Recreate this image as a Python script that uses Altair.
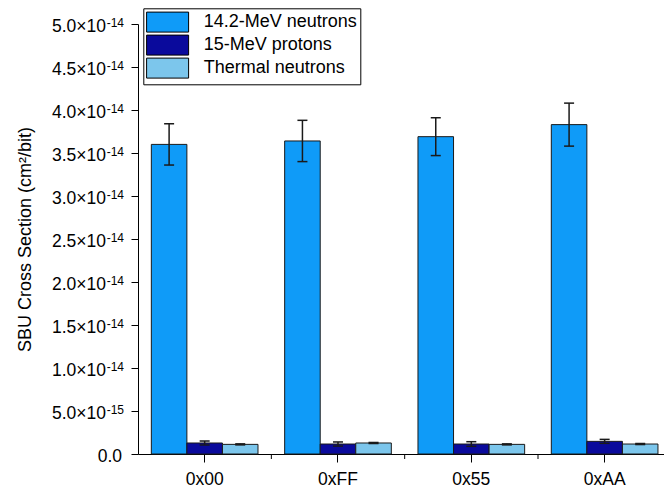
import altair as alt
import pandas as pd

categories = ["0x00", "0xFF", "0x55", "0xAA"]
series = ["14.2-MeV neutrons", "15-MeV protons", "Thermal neutrons"]
colors = ["#0f9bf8", "#0a0a9c", "#7cc6ec"]

neutrons = [3.60e-14, 3.64e-14, 3.69e-14, 3.83e-14]
neutrons_err = [0.24e-14, 0.24e-14, 0.22e-14, 0.25e-14]
protons = [1.28e-15, 1.16e-15, 1.16e-15, 1.47e-15]
protons_err = [0.23e-15, 0.24e-15, 0.27e-15, 0.23e-15]
thermal = [1.12e-15, 1.28e-15, 1.12e-15, 1.16e-15]
thermal_err = [0.06e-15, 0.06e-15, 0.06e-15, 0.06e-15]

y_tick_values = [0.0, 0.5e-14, 1.0e-14, 1.5e-14, 2.0e-14, 2.5e-14,
                 3.0e-14, 3.5e-14, 4.0e-14, 4.5e-14, 5.0e-14]
y_tick_mantissa = ["0.0", "5.0×10", "1.0×10", "1.5×10", "2.0×10", "2.5×10",
                   "3.0×10", "3.5×10", "4.0×10", "4.5×10", "5.0×10"]
y_tick_exponent = ["", "-15", "-14", "-14", "-14", "-14",
                   "-14", "-14", "-14", "-14", "-14"]
y_all_ticks = [i * 0.25e-14 for i in range(21)]
y_title = "SBU Cross Section (cm²/bit)"

FONT = "Liberation Sans"

rows = []
for s, vals, errs in zip(series, [neutrons, protons, thermal],
                         [neutrons_err, protons_err, thermal_err]):
    for c, v, e in zip(categories, vals, errs):
        rows.append({"cat": c, "series": s, "value": v, "lo": v - e, "hi": v + e})
df = pd.DataFrame(rows)

df_ylab = pd.DataFrame({"value": y_tick_values, "mantissa": y_tick_mantissa,
                        "exponent": y_tick_exponent})
df_minor = pd.DataFrame({"cat": categories[1:]})

xscale = alt.Scale(domain=categories, range=[0, 533.3], paddingInner=0.2, paddingOuter=0.1)
yscale = alt.Scale(domain=[0, 5e-14], nice=False, zero=True)
xoff = alt.XOffset("series:N", sort=series, scale=alt.Scale(domain=series, paddingInner=0, paddingOuter=0))

xaxis = alt.Axis(title=None, labelAngle=0, labelFontSize=17.5, labelFont=FONT,
                 labelColor="black", labelBaseline="alphabetic", labelPadding=22,
                 tickSize=8, tickColor="black", domainColor="black", grid=False)
yaxis = alt.Axis(title=y_title, values=y_all_ticks, labels=False, grid=False,
                 tickColor="black", domainColor="black",
                 tickSize={"condition": {"test": "abs(datum.value/5e-15 - round(datum.value/5e-15)) < 0.01",
                                         "value": 7}, "value": 4},
                 titleFont=FONT, titleFontSize=18, titleFontWeight="normal",
                 titleColor="black", titleX=-108, titleBaseline="alphabetic")

legend = alt.Legend(title=None, orient="none", legendX=5.3, legendY=-15.7,
                    symbolType="M-2.1,-1H2.1V1H-2.1Z", symbolSize=400,
                    symbolOffset=10.5,
                    symbolStrokeColor="black", symbolStrokeWidth=1, symbolOpacity=1,
                    labelFont=FONT, labelFontSize=18, labelColor="black",
                    labelOffset=25.6, labelLimit=400, padding=3.3, rowPadding=-2.1,
                    strokeColor="black", fillColor="white")

bars = alt.Chart(df).mark_bar(stroke="#1a1a1a", strokeWidth=1, opacity=1).encode(
    x=alt.X("cat:N", scale=xscale, axis=xaxis, sort=categories),
    xOffset=xoff,
    y=alt.Y("value:Q", scale=yscale, axis=yaxis, title=y_title),
    color=alt.Color("series:N", scale=alt.Scale(domain=series, range=colors), legend=legend),
)

err_rule = alt.Chart(df).mark_rule(color="#1a1a1a", strokeWidth=1.5).encode(
    x=alt.X("cat:N", sort=categories),
    xOffset=xoff,
    y=alt.Y("lo:Q", title=y_title),
    y2="hi:Q",
)
cap_lo = alt.Chart(df).mark_tick(color="#1a1a1a", thickness=1.5, size=10, opacity=1).encode(
    x=alt.X("cat:N", sort=categories),
    xOffset=xoff,
    y=alt.Y("lo:Q", title=y_title),
)
cap_hi = alt.Chart(df).mark_tick(color="#1a1a1a", thickness=1.5, size=10, opacity=1).encode(
    x=alt.X("cat:N", sort=categories),
    xOffset=xoff,
    y=alt.Y("hi:Q", title=y_title),
)

minor_x = alt.Chart(df_minor).mark_rule(color="black", strokeWidth=1, xOffset=-13.3).encode(
    x=alt.X("cat:N", sort=categories, bandPosition=0),
    y=alt.value(431),
    y2=alt.value(435),
)

ylab_main = alt.Chart(df_ylab).transform_filter("datum.value > 0").mark_text(
    align="right", baseline="alphabetic", dy=8.3, fontSize=17.5, font=FONT, color="black"
).encode(y=alt.Y("value:Q", title=y_title), x=alt.value(-32), text="mantissa:N")
ylab_exp = alt.Chart(df_ylab).transform_filter("datum.value > 0").mark_text(
    align="right", baseline="alphabetic", dy=2.7, fontSize=12, font=FONT, color="black"
).encode(y=alt.Y("value:Q", title=y_title), x=alt.value(-14), text="exponent:N")
ylab_zero = alt.Chart(df_ylab).transform_filter("datum.value == 0").mark_text(
    align="right", baseline="alphabetic", dy=8.3, fontSize=17.5, font=FONT, color="black"
).encode(y=alt.Y("value:Q", title=y_title), x=alt.value(-16), text="mantissa:N")

chart = alt.layer(bars, err_rule, cap_lo, cap_hi, minor_x, ylab_main, ylab_exp, ylab_zero).properties(
    width=526, height=430,
    autosize=alt.AutoSizeParams(type="none"),
    padding={"left": 138, "top": 24, "right": 0, "bottom": 36},
).configure(font=FONT, background="white").configure_view(strokeWidth=0, stroke="transparent")

chart.save("out.html", embed_options={"renderer": "svg", "actions": False})
